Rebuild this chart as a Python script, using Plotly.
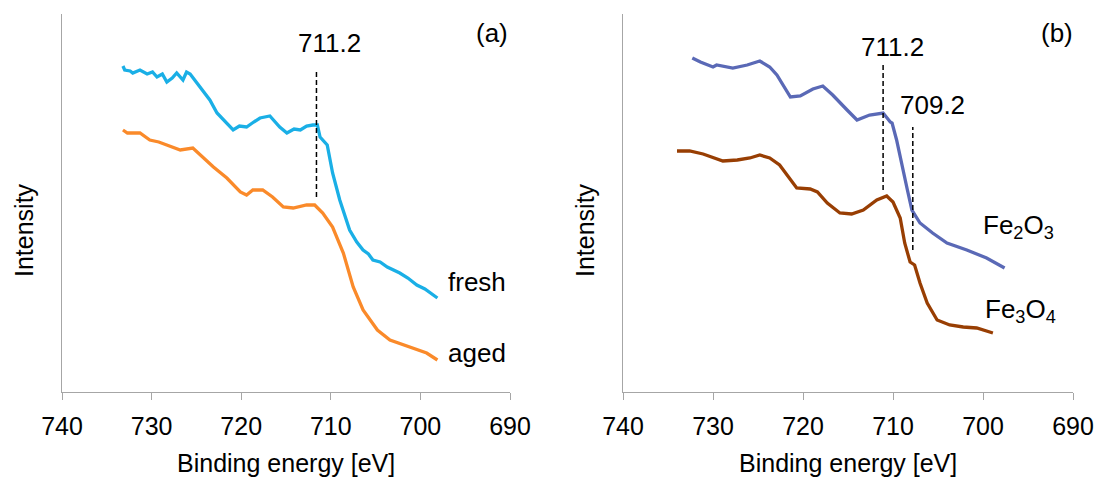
import plotly.graph_objects as go

# ---------------- data ----------------
# Panel (a)
fresh_e = [733.2, 733.0, 732.4, 732.1, 731.3, 730.5, 729.9, 729.4, 728.8, 728.3, 727.7, 727.2, 726.5,
           726.1, 725.7, 724.9, 724.3, 723.5, 722.7, 721.6, 720.9, 720.2, 719.4, 718.6, 717.9,
           716.8, 716.2, 715.7, 714.9, 714.1, 713.4, 712.7, 712.0, 711.5, 711.2,
           710.4, 709.8, 709.0, 707.9, 707.1, 706.4, 705.8, 705.3, 704.5, 703.7, 703.0, 702.3,
           701.4, 700.4, 699.5, 698.6, 698.1]
fresh_i = [326, 322, 321, 319, 322, 318, 320, 315, 318, 310, 314, 319, 312,
           320, 318, 309, 302, 292, 279, 269, 262, 266, 265, 270, 274,
           276, 270, 265, 259, 263, 262, 266, 267, 267, 255,
           247, 219, 192, 162, 150, 142, 138, 132, 130, 125, 122, 119,
           114, 107, 103, 97, 94]

aged_e = [733.2, 732.7, 731.3, 730.2, 729.2, 728.3, 727.5, 726.8, 725.4, 724.3, 723.1, 721.6, 720.1,
          719.4, 718.7, 717.6, 716.5, 715.3, 714.2, 712.7, 711.8, 710.9, 710.3, 709.8, 708.6,
          707.5, 706.4, 704.8, 703.4, 701.2, 699.3, 698.1]
aged_i = [262, 259, 259, 252, 250, 247, 245, 242, 244, 235, 225, 214, 200,
          197, 202, 202, 195, 185, 184, 187, 187, 179, 172, 165, 139,
          105, 82, 62, 52, 45, 39, 32]

# Panel (b)
fe2o3_e = [732.3, 731.4, 730.0, 729.6, 727.8, 726.2, 724.8, 723.7, 722.9, 722.2, 721.4, 720.3,
           718.9, 717.8, 716.7, 715.1, 714.0, 712.6, 711.1, 710.3, 710.1, 709.6, 709.0, 708.4,
           707.9, 707.0, 705.6, 704.0, 701.8, 699.6, 697.6]
fe2o3_i = [334, 330, 325, 327, 324, 327, 331, 325, 317, 307, 295, 296,
           303, 306, 297, 282, 272, 277, 279, 270, 269, 252, 225, 202,
           182, 169, 159, 149, 142, 134, 124]

fe3o4_e = [734.0, 732.6, 731.1, 728.9, 727.3, 725.9, 724.8, 723.7, 722.6, 721.8, 720.7, 719.2,
           718.4, 717.3, 715.9, 714.6, 713.3, 711.8, 710.7, 710.0, 709.2, 708.7, 708.1, 707.6,
           707.0, 706.2, 705.1, 703.7, 702.2, 700.7, 698.9]
fe3o4_i = [241, 241, 238, 231, 232, 234, 237, 234, 227, 217, 204, 203,
           200, 189, 179, 178, 182, 192, 196, 190, 174, 149, 130, 127,
           109, 89, 72, 67, 65, 64, 59]

x_ticks = [740, 730, 720, 710, 700, 690]

# ---------------- figure ----------------
W, H = 1097, 478
def px(x):
    return x / W
def py(y):
    return 1 - y / H

FONT = "Liberation Sans, Arial, sans-serif"

fig = go.Figure()
fig.add_trace(go.Scatter(x=fresh_e, y=fresh_i, mode="lines",
                         line=dict(color="#1AAFE6", width=3.3), xaxis="x", yaxis="y"))
fig.add_trace(go.Scatter(x=aged_e, y=aged_i, mode="lines",
                         line=dict(color="#FA8A2A", width=3.3), xaxis="x", yaxis="y"))
fig.add_trace(go.Scatter(x=fe2o3_e, y=fe2o3_i, mode="lines",
                         line=dict(color="#5A69B6", width=3.3), xaxis="x2", yaxis="y2"))
fig.add_trace(go.Scatter(x=fe3o4_e, y=fe3o4_i, mode="lines",
                         line=dict(color="#983E03", width=3.3), xaxis="x2", yaxis="y2"))

xax = dict(range=[740, 690], tickvals=x_ticks, ticks="outside", ticklen=7,
           tickcolor="#A6A6A6", showline=True, linecolor="#A6A6A6", linewidth=1.3,
           showgrid=False, zeroline=False, automargin=False,
           ticklabelstandoff=5,
           tickfont=dict(size=25, color="#000000", family=FONT))
yax = dict(range=[0, 378], showticklabels=False, ticks="", showline=True,
           linecolor="#A6A6A6", linewidth=1.3, showgrid=False, zeroline=False,
           automargin=False)

dom_y = [py(392), py(14)]
fig.update_layout(
    width=W, height=H,
    margin=dict(l=0, r=0, t=0, b=0, autoexpand=False),
    paper_bgcolor="white", plot_bgcolor="white",
    showlegend=False,
    font=dict(family=FONT, size=25, color="#000000"),
    xaxis=dict(xax, domain=[px(62), px(510)], anchor="y"),
    yaxis=dict(yax, domain=dom_y, anchor="x"),
    xaxis2=dict(xax, domain=[px(623), px(1073)], anchor="y2"),
    yaxis2=dict(yax, domain=dom_y, anchor="x2"),
)

dash = dict(color="black", width=1.5, dash="5px,3px")
fig.add_shape(type="line", xref="x", yref="y", x0=711.6, x1=711.6, y0=195, y1=320, line=dash)
fig.add_shape(type="line", xref="x2", yref="y2", x0=711.1, x1=711.1, y0=202, y1=327, line=dash)
fig.add_shape(type="line", xref="x2", yref="y2", x0=707.8, x1=707.8, y0=142, y1=265, line=dash)

def ann(x, y, text, xref="paper", yref="paper", size=26, angle=0):
    fig.add_annotation(x=x, y=y, xref=xref, yref=yref, text=text, showarrow=False,
                       xanchor="center", yanchor="middle", textangle=angle,
                       font=dict(size=size, family=FONT, color="#000000"))

# panel (a) texts
ann(710.2, 349, "711.2", "x", "y")
ann(692.0, 359, "(a)", "x", "y")
ann(693.7, 110, "fresh", "x", "y")
ann(693.7, 39, "aged", "x", "y")
# panel (b) texts
ann(710.1, 345, "711.2", "x2", "y2")
ann(705.6, 287, "709.2", "x2", "y2")
ann(691.8, 359, "(b)", "x2", "y2")
ann(696.0, 166, "Fe<sub>2</sub>O<sub>3</sub>", "x2", "y2")
ann(695.8, 82, "Fe<sub>3</sub>O<sub>4</sub>", "x2", "y2")

# axis titles
ann(px(286), py(463), "Binding energy [eV]", size=25)
ann(px(848), py(463), "Binding energy [eV]", size=25)
ann(px(24), py(230), "Intensity", angle=-90, size=25)
ann(px(585), py(230), "Intensity", angle=-90, size=25)

fig.write_html("out.html")
